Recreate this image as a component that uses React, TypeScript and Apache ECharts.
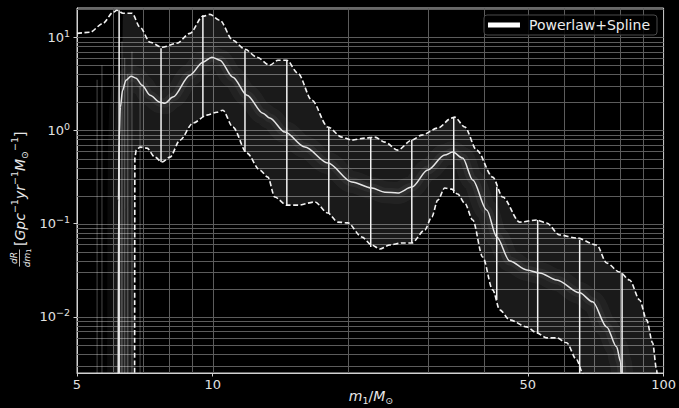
import React, { useEffect, useRef } from 'react';
import * as echarts from 'echarts';

// Axis limits (log-log)
const X_MIN = 5;
const X_MAX = 100;
const Y_MIN = 0.0025;
const Y_MAX = 20.6;

// Tick labels
const xTickLabels = [5, 10, 50, 100];
const yTickLabels = [0.01, 0.1, 1, 10];
const xGridValues = [6, 7, 8, 9, 10, 20, 30, 40, 50, 60, 70, 80, 90];

// 95th-percentile envelope
const upperMass = [5.0, 5.34, 5.71, 6.01, 6.13, 6.32, 6.62, 6.9, 7.26, 7.72, 8.33, 8.9, 9.51, 9.86, 10.37, 11.08, 11.79, 12.53, 13.38, 13.95, 14.6, 15.45, 16.59, 18.0, 19.33, 20.35, 21.74, 22.88, 24.08, 25.73, 27.64, 29.08, 31.56, 33.89, 34.42, 36.22, 38.5, 41.78, 43.97, 47.96, 52.3, 55.04, 58.81, 64.15, 71.05, 74.77, 79.87, 84.07, 88.48, 91.69, 94.54, 96.5, 97.6];
const upperRate = [11.0, 11.3, 14.1, 18.5, 19.5, 18.1, 18.1, 12.8, 8.84, 7.81, 8.63, 11.0, 16.8, 17.6, 15.2, 9.29, 7.44, 6.11, 5.01, 5.67, 5.67, 4.11, 2.11, 1.09, 0.849, 0.788, 0.828, 0.849, 0.75, 0.616, 0.788, 0.891, 1.06, 1.36, 1.39, 1.09, 0.616, 0.316, 0.193, 0.104, 0.1095, 0.1017, 0.0756, 0.0702, 0.0591, 0.0379, 0.0303, 0.0249, 0.0152, 0.00929, 0.00527, 0.0027, 0.001];

// median rate
const medianMass = [6.17, 6.18, 6.2, 6.24, 6.31, 6.42, 6.59, 6.76, 6.97, 7.26, 7.64, 7.83, 8.16, 8.9, 9.51, 9.96, 10.37, 11.08, 11.91, 12.92, 13.38, 14.45, 16.01, 18.0, 20.35, 22.53, 24.08, 25.73, 27.64, 29.99, 32.7, 34.06, 35.85, 37.73, 40.52, 42.65, 45.57, 49.7, 53.11, 57.91, 65.14, 69.59, 74.77, 78.65, 80.28, 80.9];
const medianRate = [0.001, 0.179, 0.788, 1.78, 2.7, 3.46, 3.82, 3.64, 3.06, 2.39, 2.01, 1.96, 2.28, 3.92, 5.4, 6.11, 5.67, 3.73, 2.39, 1.53, 1.36, 0.96, 0.663, 0.447, 0.28, 0.241, 0.218, 0.213, 0.247, 0.376, 0.544, 0.586, 0.505, 0.294, 0.14, 0.072, 0.0398, 0.0319, 0.0296, 0.0249, 0.0181, 0.0145, 0.00781, 0.00477, 0.0033, 0.001];

// 5th-percentile envelope
const lowerMass = [6.71, 6.72, 6.77, 6.9, 7.15, 7.44, 7.72, 8.04, 8.46, 9.04, 9.71, 10.22, 10.53, 11.08, 11.91, 12.72, 13.25, 13.73, 14.6, 15.45, 16.85, 18.0, 18.94, 19.94, 21.41, 22.53, 23.47, 24.7, 26.26, 27.64, 29.54, 30.61, 31.56, 32.7, 33.89, 34.94, 36.22, 37.73, 39.7, 41.78, 43.3, 45.57, 49.7, 52.3, 55.04, 57.91, 60.95, 64.15, 66.14, 67.0];
const lowerRate = [0.001, 0.518, 0.616, 0.663, 0.647, 0.518, 0.458, 0.518, 0.788, 1.2, 1.46, 1.57, 1.65, 1.09, 0.572, 0.376, 0.316, 0.193, 0.158, 0.158, 0.171, 0.13, 0.104, 0.102, 0.072, 0.0591, 0.0535, 0.0591, 0.0621, 0.0621, 0.0855, 0.118, 0.179, 0.241, 0.235, 0.208, 0.166, 0.1095, 0.0439, 0.0195, 0.0119, 0.00929, 0.00781, 0.00674, 0.00596, 0.00596, 0.00527, 0.00346, 0.00251, 0.001];

// spline knots with their credible range (0 = rate drops to zero)
const knotMass = [6.2, 7.68, 9.51, 11.79, 14.6, 18.09, 22.41, 27.64, 34.24, 42.65, 52.57, 65.14, 80.9];
const knotHigh = [19.5, 7.62, 17.2, 7.26, 5.67, 1.09, 0.849, 0.788, 1.39, 0.247, 0.1095, 0.0668, 0.0296];
const knotLow = [0, 0.458, 1.39, 0.586, 0.158, 0.13, 0.0562, 0.0621, 0.213, 0.0152, 0.00674, 0, 0];

// minimum-mass cut-offs of individual draws
const cutoffMass = [5.54, 5.68, 6.29, 6.38, 6.48, 6.62, 6.9];
const cutoffTop = [3.5, 5.0, 9.0, 6.0, 4.0, 7.0, 3.0];

const FONT = 'DejaVu Sans';
const pairs = (xs: number[], ys: number[]) => xs.map((x, i) => [x, ys[i]]);
const clampY = (v: number) => Math.min(Math.max(v, Y_MIN), Y_MAX);

function yGridValues(): number[] {
  const out: number[] = [];
  for (let e = -3; e <= 1; e++) {
    for (let k = 1; k <= 9; k++) {
      const v = +(k * Math.pow(10, e)).toPrecision(6);
      if (v > Y_MIN && v < Y_MAX) out.push(v);
    }
  }
  return out;
}

function supLabel(v: number): string {
  const e = Math.round(Math.log10(v));
  if (Math.abs(Math.log10(v) - e) > 1e-6) return '';
  return `{b|10}{s|${e < 0 ? '\u2212' : ''}${Math.abs(e)}}`;
}

function buildOption(): any {
  const gridStroke = '#5c5c5c';
  const medianClamped = pairs(medianMass, medianRate.map(clampY));
  return {
    animation: false,
    backgroundColor: '#000',
    textStyle: { fontFamily: FONT },
    grid: { left: 77, right: 15, top: 8, bottom: 35, show: true, borderColor: '#d2d2d2', borderWidth: 1, backgroundColor: 'transparent' },
    legend: {
      right: 22,
      top: 15,
      padding: [3, 7, 3, 4],
      itemWidth: 32,
      itemHeight: 5,
      itemGap: 0,
      backgroundColor: 'rgba(0,0,0,0.85)',
      borderColor: '#4a4a4a',
      borderWidth: 1,
      borderRadius: 3,
      data: [{ name: 'Powerlaw+Spline', icon: 'rect' }],
      itemStyle: { color: '#ffffff' },
      textStyle: { color: '#ececec', fontSize: 14, fontFamily: FONT, padding: [0, 0, 0, 4] },
    },
    xAxis: {
      type: 'log',
      logBase: 10,
      min: X_MIN,
      max: X_MAX,
      axisLine: { show: true, lineStyle: { color: '#d2d2d2', width: 1 } },
      axisTick: { show: true, length: 3.5, customValues: xTickLabels, lineStyle: { color: '#d2d2d2' } },
      axisLabel: {
        customValues: xTickLabels,
        formatter: (v: number) => String(Math.round(v)),
        color: '#e2e2e2',
        fontSize: 13,
        fontFamily: FONT,
        margin: 5,
      },
      splitLine: { show: false },
      minorSplitLine: { show: false },
    },
    yAxis: {
      type: 'log',
      logBase: 10,
      min: Y_MIN,
      max: Y_MAX,
      axisLine: { show: true, lineStyle: { color: '#d2d2d2', width: 1 } },
      axisTick: { show: true, length: 3.5, customValues: yTickLabels, lineStyle: { color: '#d2d2d2' } },
      axisLabel: {
        customValues: yTickLabels,
        formatter: supLabel,
        color: '#e2e2e2',
        margin: 7,
        rich: {
          b: { fontSize: 13, lineHeight: 18, color: '#e2e2e2', fontFamily: FONT, verticalAlign: 'middle' },
          s: { fontSize: 9.5, lineHeight: 9, color: '#e2e2e2', fontFamily: FONT, verticalAlign: 'top' },
        },
      },
      splitLine: { show: false },
    },
    graphic: [
      {
        type: 'group',
        x: 19.5,
        y: 267,
        rotation: Math.PI / 2,
        silent: true,
        children: [
          { type: 'text', x: 9, y: -1.2, style: { text: 'dR', fontSize: 9, fontStyle: 'italic', fontFamily: FONT, fill: '#e8e8e8', align: 'center', verticalAlign: 'bottom' } },
          { type: 'line', shape: { x1: 0.5, y1: 0, x2: 17.5, y2: 0 }, style: { stroke: '#e8e8e8', lineWidth: 0.8 } },
          {
            type: 'text', x: 9, y: 1.2,
            style: {
              text: '{i|dm}{s|1}', align: 'center', verticalAlign: 'top',
              rich: {
                i: { fontSize: 9, fontStyle: 'italic', fontFamily: FONT, fill: '#e8e8e8', lineHeight: 12 },
                s: { fontSize: 6.5, fontFamily: FONT, fill: '#e8e8e8', lineHeight: 6, verticalAlign: 'bottom' },
              },
            },
          },
          {
            type: 'text', x: 21, y: 0,
            style: {
              text: '{n|[}{i|Gpc}{p|\u22121}{i|yr}{p|\u22121}{i|M}{d|\u2299}{p|\u22121}{n|]}',
              align: 'left', verticalAlign: 'middle',
              rich: {
                n: { fontSize: 14, fontFamily: FONT, fill: '#e8e8e8', lineHeight: 20 },
                i: { fontSize: 14, fontStyle: 'italic', fontFamily: FONT, fill: '#e8e8e8', lineHeight: 20 },
                p: { fontSize: 9.5, fontFamily: FONT, fill: '#e8e8e8', lineHeight: 10, verticalAlign: 'top' },
                d: { fontSize: 9.5, fontFamily: FONT, fill: '#e8e8e8', lineHeight: 8, verticalAlign: 'bottom' },
              },
            },
          },
        ],
      },
      {
        type: 'text',
        x: 371,
        y: 396,
        silent: true,
        style: {
          text: '{i|m}{s|1}{n|/}{i|M}{s|\u2299}',
          align: 'center', verticalAlign: 'middle',
          rich: {
            i: { fontSize: 14, fontStyle: 'italic', fontFamily: FONT, fill: '#e8e8e8', lineHeight: 18 },
            n: { fontSize: 14, fontFamily: FONT, fill: '#e8e8e8', lineHeight: 18 },
            s: { fontSize: 9.5, fontFamily: FONT, fill: '#e8e8e8', lineHeight: 8, verticalAlign: 'bottom' },
          },
        },
      },
    ],
    series: [
      // vertical grid lines
      {
        type: 'custom', silent: true, z: 1,
        data: xGridValues.map((v) => [v, 1]),
        renderItem: (_p: any, api: any) => {
          const a = api.coord([api.value(0), Y_MIN]);
          const b = api.coord([api.value(0), Y_MAX]);
          const x = Math.round(a[0]) + 0.5;
          return { type: 'line', shape: { x1: x, y1: a[1], x2: x, y2: b[1] }, style: { stroke: gridStroke, lineWidth: 1 } };
        },
      },
      // horizontal grid lines
      {
        type: 'custom', silent: true, z: 1,
        data: yGridValues().map((v) => [X_MIN, v]),
        renderItem: (_p: any, api: any) => {
          const a = api.coord([X_MIN, api.value(1)]);
          const b = api.coord([X_MAX, api.value(1)]);
          const y = Math.round(a[1]) + 0.5;
          return { type: 'line', shape: { x1: a[0], y1: y, x2: b[0], y2: y }, style: { stroke: gridStroke, lineWidth: 1 } };
        },
      },
      // credible band haze
      {
        type: 'custom', silent: true, z: 2,
        data: [[X_MIN, 1]],
        renderItem: (_p: any, api: any) => {
          const start = medianMass[0];
          const top = pairs(upperMass, upperRate).filter((d) => d[0] >= start);
          const bottom = pairs(lowerMass, lowerRate);
          const pts: number[][] = [];
          pts.push(api.coord([start, Y_MIN]));
          top.forEach((d) => pts.push(api.coord([d[0], clampY(d[1])])));
          pts.push(api.coord([top[top.length - 1][0], Y_MIN]));
          bottom.slice().reverse().forEach((d) => pts.push(api.coord([d[0], clampY(d[1])])));
          return { type: 'polygon', shape: { points: pts }, style: { fill: 'rgba(255,255,255,0.10)' } };
        },
      },
      // minimum-mass cut-offs of individual draws
      {
        type: 'custom', silent: true, z: 2,
        data: pairs(cutoffMass, cutoffTop),
        renderItem: (_p: any, api: any) => {
          const a = api.coord([api.value(0), Y_MIN]);
          const b = api.coord([api.value(0), clampY(api.value(1))]);
          return { type: 'line', shape: { x1: a[0], y1: a[1], x2: b[0], y2: b[1] }, style: { stroke: 'rgba(255,255,255,0.28)', lineWidth: 1 } };
        },
      },
      // haze concentrated around the median
      {
        type: 'line', silent: true, z: 3, symbol: 'none', smooth: 0.3, smoothMonotone: 'x',
        data: medianClamped,
        lineStyle: { color: 'rgba(255,255,255,0.04)', width: 22, cap: 'butt' },
      },
      {
        type: 'line', silent: true, z: 3, symbol: 'none', smooth: 0.3, smoothMonotone: 'x',
        data: medianClamped,
        lineStyle: { color: 'rgba(255,255,255,0.05)', width: 9, cap: 'butt' },
      },
      // knot markers
      {
        type: 'custom', silent: true, z: 4,
        data: knotMass.map((m, i) => [m, knotLow[i], knotHigh[i]]),
        renderItem: (_p: any, api: any) => {
          const a = api.coord([api.value(0), clampY(api.value(1))]);
          const b = api.coord([api.value(0), clampY(api.value(2))]);
          return { type: 'line', shape: { x1: a[0], y1: a[1], x2: b[0], y2: b[1] }, style: { stroke: '#f4f4f4', lineWidth: 1.5 } };
        },
      },
      {
        type: 'line', silent: true, z: 5, symbol: 'none', smooth: 0.3, smoothMonotone: 'x',
        data: pairs(upperMass, upperRate),
        lineStyle: { color: '#f4f4f4', width: 1.6, type: [5, 2.5] },
      },
      {
        type: 'line', silent: true, z: 5, symbol: 'none', smooth: 0.3, smoothMonotone: 'x',
        data: pairs(lowerMass, lowerRate),
        lineStyle: { color: '#f4f4f4', width: 1.6, type: [5, 2.5] },
      },
      {
        name: 'Powerlaw+Spline',
        type: 'line', silent: true, z: 6, symbol: 'none', smooth: 0.3, smoothMonotone: 'x',
        data: pairs(medianMass, medianRate),
        itemStyle: { color: '#ffffff' },
        lineStyle: { color: '#e6e6e6', width: 1.5 },
      },
    ],
  };
}

export default function App() {
  const ref = useRef<HTMLDivElement>(null);
  useEffect(() => {
    if (!ref.current) return;
    const chart = echarts.init(ref.current, undefined, { renderer: 'svg' });
    chart.setOption(buildOption());
    return () => chart.dispose();
  }, []);
  return (
    <div style={{ position: 'fixed', left: 0, top: 0, width: 679, height: 408, background: '#000' }}>
      <div ref={ref} style={{ width: 679, height: 408 }} />
    </div>
  );
}
